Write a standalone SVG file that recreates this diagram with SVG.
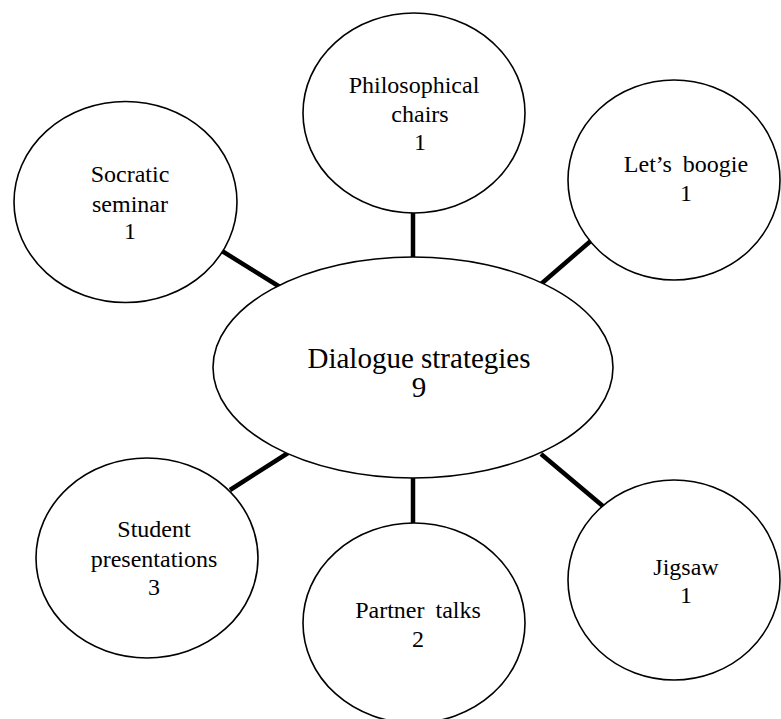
<svg xmlns="http://www.w3.org/2000/svg" width="781" height="719" viewBox="0 0 781 719">
<style>
.node ellipse{fill:#fff;stroke:#000;stroke-width:1.6}
.t{font-family:"Liberation Serif","Times New Roman",serif;font-size:24px;fill:#000;text-anchor:middle}
.big{font-size:29px}
#connectors line{stroke:#000;stroke-width:4.5}
</style>
<rect width="781" height="719" fill="#fff"/>
<g id="connectors">
<line x1="413" y1="212" x2="413" y2="258"/>
<line x1="593" y1="239" x2="541" y2="284"/>
<line x1="222" y1="251" x2="280" y2="287"/>
<line x1="230" y1="490" x2="288" y2="453"/>
<line x1="413" y1="477" x2="413" y2="524"/>
<line x1="541" y1="454" x2="604" y2="507"/>
</g>
<g id="center" class="node">
<ellipse cx="413" cy="367.5" rx="200" ry="110.5"/>
<text class="t big" x="419" y="368">Dialogue strategies</text>
<text class="t big" x="419" y="397">9</text>
</g>
<g id="philosophical" class="node">
<ellipse cx="414" cy="113" rx="111" ry="100"/>
<text class="t" x="414" y="93">Philosophical</text>
<text class="t" x="420" y="122">chairs</text>
<text class="t" x="420" y="150">1</text>
</g>
<g id="boogie" class="node">
<ellipse cx="674" cy="180" rx="106" ry="100"/>
<text class="t" x="686" y="172" word-spacing="5">Let’s boogie</text>
<text class="t" x="686" y="201">1</text>
</g>
<g id="socratic" class="node">
<ellipse cx="125.5" cy="202" rx="111.5" ry="100.5"/>
<text class="t" x="130" y="182">Socratic</text>
<text class="t" x="130" y="212">seminar</text>
<text class="t" x="130" y="239">1</text>
</g>
<g id="student" class="node">
<ellipse cx="147" cy="558" rx="111" ry="100"/>
<text class="t" x="154" y="537">Student</text>
<text class="t" x="154" y="567">presentations</text>
<text class="t" x="154" y="595">3</text>
</g>
<g id="partner" class="node">
<ellipse cx="414" cy="623" rx="111" ry="100"/>
<text class="t" x="418" y="618" word-spacing="5">Partner talks</text>
<text class="t" x="418" y="647">2</text>
</g>
<g id="jigsaw" class="node">
<ellipse cx="674" cy="580" rx="106" ry="100"/>
<text class="t" x="686" y="575">Jigsaw</text>
<text class="t" x="686" y="603">1</text>
</g>
</svg>
